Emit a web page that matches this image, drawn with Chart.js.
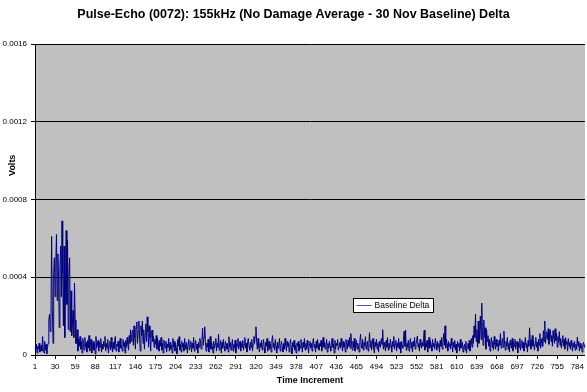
<!DOCTYPE html>
<html>
<head>
<meta charset="utf-8">
<script src="https://cdn.jsdelivr.net/npm/chart.js"></script>
<style>
  html, body { margin: 0; padding: 0; background: #fff; }
  #wrap { width: 587px; height: 392px; }
</style>
</head>
<body>
<div id="wrap"><canvas id="deltaChart"></canvas></div>
<script>
const chartTitle = 'Pulse-Echo (0072): 155kHz (No Damage Average - 30 Nov Baseline) Delta';
const seriesName = 'Baseline Delta';
const yAxisTitle = 'Volts';
const xAxisTitle = 'Time Increment';
const yTicks = [0, 0.0004, 0.0008, 0.0012, 0.0016];
const xLabelEvery = 29;

// delta in microvolts, one value per time increment
const deltaMicroVolts = [
  40, 25, 55, 10, 45, 30, 60, 15, 35, 50, 20, 95, 30, 10, 70, 25, 55, 5, 40, 60,
  180, 210, 120, 190, 610, 250, 60, 420, 500, 300, 470, 620, 280, 520, 400, 140, 450, 560, 300, 690,
  420, 150, 560, 90, 350, 640, 260, 590, 130, 430, 500, 120, 330, 100, 160, 230, 90, 370, 180, 60,
  60, 130, 20, 80, 45, 95, 30, 70, 10, 85, 50, 25, 90, 40, 65, 15, 75, 35, 100, 20,
  55, 80, 10, 45, 70, 25, 60, 5, 95, 35, 50, 75, 20, 65, 40, 85, 15, 55, 30, 70,
  45, 95, 20, 60, 35, 80, 10, 50, 70, 25, 90, 40, 15, 65, 30, 75, 95, 20, 55, 45,
  70, 15, 60, 85, 35, 50, 20, 80, 45, 65, 10, 75, 40, 90, 55, 25, 100, 60, 130, 70,
  110, 128, 50, 150, 90, 30, 140, 170, 60, 120, 175, 80, 20, 150, 100, 175, 60, 130, 30, 110,
  160, 70, 196, 120, 40, 150, 90, 20, 110, 128, 70, 95, 40, 80, 55, 100, 30, 85, 60, 20,
  75, 45, 90, 25, 60, 10, 77, 50, 35, 70, 15, 55, 40, 85, 20, 65, 30, 50, 10, 85,
  40, 70, 20, 60, 35, 5, 80, 45, 94, 25, 55, 15, 70, 40, 60, 20, 85, 50, 30, 65,
  10, 55, 80, 25, 45, 70, 15, 60, 35, 90, 20, 50, 75, 30, 55, 10, 65, 40, 85, 60,
  30, 75, 138, 50, 90, 145, 70, 20, 60, 40, 80, 15, 55, 95, 30, 65, 45, 10, 70, 35,
  55, 85, 20, 60, 40, 107, 25, 50, 75, 10, 65, 35, 80, 45, 20, 70, 55, 30, 60, 15,
  94, 40, 65, 25, 50, 80, 20, 55, 35, 77, 10, 60, 45, 85, 30, 50, 70, 20, 60, 40,
  75, 25, 55, 90, 35, 60, 15, 70, 85, 45, 25, 65, 40, 80, 20, 55, 95, 60, 100, 145,
  70, 30, 85, 45, 15, 60, 40, 75, 25, 55, 80, 35, 10, 65, 45, 85, 20, 50, 70, 30,
  55, 15, 75, 100, 40, 60, 25, 80, 45, 10, 65, 35, 55, 85, 20, 50, 70, 40, 15, 60,
  30, 85, 50, 20, 70, 45, 60, 15, 55, 80, 35, 5, 65, 40, 75, 25, 50, 10, 60, 45,
  70, 20, 55, 35, 80, 50, 15, 65, 40, 85, 25, 60, 30, 75, 45, 10, 55, 70, 35, 60,
  20, 65, 85, 40, 55, 15, 70, 35, 80, 50, 25, 60, 45, 75, 20, 55, 90, 40, 65, 30,
  50, 80, 15, 60, 35, 70, 45, 20, 65, 85, 40, 55, 10, 75, 30, 60, 50, 80, 25, 45,
  65, 35, 85, 50, 20, 70, 40, 60, 15, 80, 55, 30, 75, 45, 90, 35, 110, 60, 25, 70,
  40, 85, 20, 55, 75, 30, 60, 45, 15, 70, 107, 50, 35, 80, 25, 65, 45, 94, 30, 55,
  70, 20, 60, 115, 40, 75, 25, 55, 85, 35, 10, 65, 45, 80, 30, 60, 15, 70, 50, 40,
  85, 55, 130, 30, 65, 45, 20, 75, 40, 90, 25, 60, 35, 80, 50, 15, 70, 45, 95, 30,
  55, 75, 20, 60, 40, 85, 30, 65, 10, 70, 50, 35, 80, 122, 45, 128, 25, 60, 40, 75,
  20, 55, 85, 35, 65, 15, 70, 45, 90, 30, 55, 75, 97, 40, 60, 20, 80, 50, 35, 65,
  45, 85, 128, 25, 60, 40, 75, 15, 55, 90, 35, 70, 50, 20, 80, 45, 60, 30, 85, 55,
  25, 70, 40, 60, 15, 75, 45, 90, 30, 65, 110, 50, 150, 35, 80, 55, 20, 70, 45, 60,
  30, 85, 50, 15, 65, 40, 75, 25, 55, 10, 70, 45, 60, 20, 80, 35, 50, 65, 15, 40,
  55, 25, 70, 10, 45, 60, 30, 75, 20, 50, 85, 40, 100, 60, 150, 90, 210, 70, 130, 40,
  175, 60, 110, 200, 80, 267, 120, 50, 180, 90, 140, 30, 128, 70, 100, 45, 80, 20, 65, 90,
  40, 70, 25, 95, 55, 30, 80, 45, 60, 20, 75, 50, 110, 35, 65, 85, 40, 122, 55, 25,
  70, 45, 90, 30, 60, 15, 75, 50, 35, 85, 20, 65, 45, 80, 30, 55, 70, 10, 60, 40,
  85, 25, 55, 75, 35, 65, 20, 50, 90, 40, 60, 15, 75, 45, 140, 80, 30, 60, 100, 45,
  70, 25, 55, 90, 40, 65, 20, 80, 50, 110, 35, 60, 85, 45, 125, 70, 175, 60, 95, 120,
  80, 135, 55, 110, 130, 70, 100, 45, 125, 90, 60, 135, 75, 110, 40, 95, 65, 120, 50, 85,
  35, 70, 100, 45, 80, 30, 90, 55, 70, 20, 85, 45, 65, 30, 75, 50, 20, 60, 40, 70,
  25, 55, 30, 92, 45, 70, 20, 60, 35, 50, 15, 55, 65, 40, 55
];

const timeIncrements = deltaMicroVolts.map((v, i) => i + 1);
const deltaVolts = deltaMicroVolts.map(v => v / 1e6);

const fontFamily = "'Liberation Sans', Arial, sans-serif";
Chart.defaults.color = '#000';
Chart.defaults.font.family = fontFamily;

// grey plot area like the spreadsheet chart
const plotBackground = {
    id: 'plotBackground',
    beforeDraw(chart) {
        const { ctx, chartArea: a } = chart;
        ctx.save();
        ctx.fillStyle = '#c0c0c0';
        ctx.fillRect(a.left, a.top, a.right - a.left, a.bottom - a.top);
        ctx.restore();
    }
};

// y title sits a bit above the middle, legend box sits inside the plot
const extraText = {
    id: 'extraText',
    afterDraw(chart) {
        const { ctx, chartArea: a } = chart;
        const ds = chart.data.datasets[0];

        ctx.save();
        ctx.fillStyle = '#000';
        ctx.font = 'bold 9px ' + fontFamily;
        ctx.textAlign = 'center';
        ctx.textBaseline = 'middle';
        ctx.translate(13, a.top + (a.bottom - a.top) * 0.39);
        ctx.rotate(-Math.PI / 2);
        ctx.fillText(yAxisTitle, 0, 0);
        ctx.restore();

        const x = Math.round(a.left + (a.right - a.left) * 0.578) + 0.5;
        const y = Math.round(a.top + (a.bottom - a.top) * 0.817) + 0.5;
        const w = 80, h = 14;
        ctx.save();
        ctx.fillStyle = '#fff';
        ctx.fillRect(x, y, w, h);
        ctx.strokeStyle = '#000';
        ctx.lineWidth = 1;
        ctx.strokeRect(x, y, w, h);
        ctx.strokeStyle = '#5050b0';
        ctx.beginPath();
        ctx.moveTo(x + 3, y + h / 2);
        ctx.lineTo(x + 18, y + h / 2);
        ctx.stroke();
        ctx.fillStyle = '#000';
        ctx.font = '8.5px ' + fontFamily;
        ctx.textBaseline = 'middle';
        ctx.fillText(ds.label, x + 21, y + h / 2 + 0.5);
        ctx.restore();
    }
};

new Chart(document.getElementById('deltaChart'), {
    type: 'line',
    data: {
        labels: timeIncrements,
        datasets: [{
            label: seriesName,
            data: deltaVolts,
            borderColor: '#000080',
            borderWidth: 1,
            pointRadius: 0,
            tension: 0,
            fill: false
        }]
    },
    options: {
        responsive: true,
        maintainAspectRatio: false,
        animation: false,
        layout: { padding: 0 },
        plugins: {
            legend: { display: false },
            tooltip: { enabled: false },
            title: {
                display: true,
                text: chartTitle,
                font: { size: 12.5, weight: 'bold' },
                padding: { top: 7, bottom: 22 }
            }
        },
        scales: {
            x: {
                type: 'category',
                offset: false,
                afterFit(scale) { scale.height = 37; },
                grid: { drawOnChartArea: false, drawTicks: true, tickLength: 4, color: '#000' },
                border: { color: '#000' },
                ticks: {
                    autoSkip: false,
                    maxRotation: 0,
                    minRotation: 0,
                    padding: 3,
                    font: { size: 8 },
                    callback: (val, idx) => idx % xLabelEvery === 0 ? timeIncrements[idx] : null
                },
                title: {
                    display: true,
                    text: xAxisTitle,
                    font: { size: 9, weight: 'bold' },
                    padding: { top: 0, bottom: 6 }
                }
            },
            y: {
                min: yTicks[0],
                max: yTicks[yTicks.length - 1],
                afterFit(scale) { scale.width = 35; },
                afterBuildTicks(scale) { scale.ticks = yTicks.map(v => ({ value: v })); },
                grid: { color: '#000', tickLength: 4 },
                border: { color: '#000' },
                ticks: {
                    padding: 4,
                    font: { size: 8 },
                    callback: v => v === 0 ? '0' : v.toFixed(4)
                }
            }
        }
    },
    plugins: [plotBackground, extraText]
});
</script>
</body>
</html>
